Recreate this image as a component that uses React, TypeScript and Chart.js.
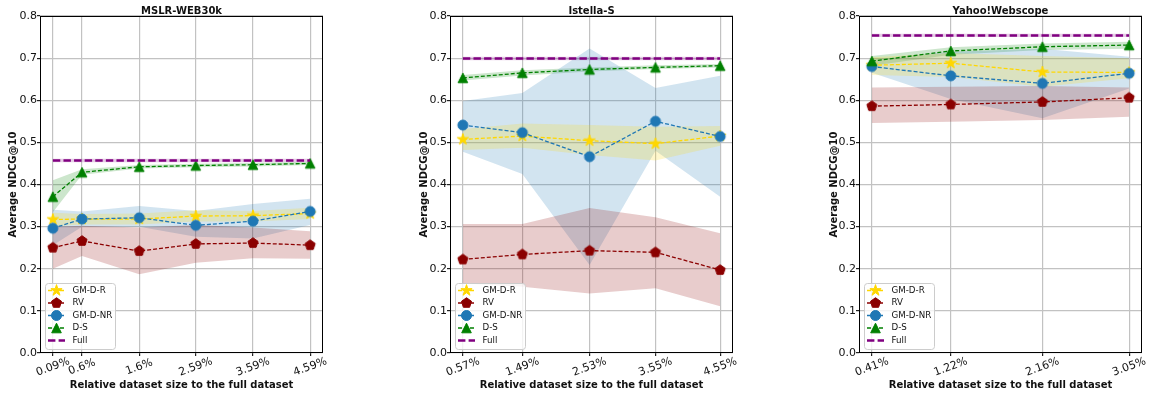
import React, { useEffect, useRef } from 'react';
import { Chart, registerables } from 'chart.js';

Chart.register(...registerables);

// ---------- shared labels ----------
const seriesNames = ['GM-D-R', 'RV', 'GM-D-NR', 'D-S', 'Full'];
const yTickValues = [0, 0.1, 0.2, 0.3, 0.4, 0.5, 0.6, 0.7, 0.8];
const xAxisTitle = 'Relative dataset size to the full dataset';
const yAxisTitle = 'Average NDCG@10';

// ---------- MSLR-WEB30k ----------
const mslrTitle = 'MSLR-WEB30k';
const mslrX = [0.09, 0.6, 1.6, 2.59, 3.59, 4.59];
const mslrXLabels = ['0.09%', '0.6%', '1.6%', '2.59%', '3.59%', '4.59%'];
const mslrGmdr = [0.317, 0.318, 0.318, 0.325, 0.326, 0.331];
const mslrGmdrLo = [0.301, 0.305, 0.305, 0.312, 0.312, 0.318];
const mslrGmdrHi = [0.333, 0.330, 0.331, 0.339, 0.337, 0.345];
const mslrRv = [0.250, 0.266, 0.242, 0.259, 0.261, 0.256];
const mslrRvLo = [0.200, 0.230, 0.187, 0.214, 0.225, 0.224];
const mslrRvHi = [0.300, 0.302, 0.298, 0.304, 0.298, 0.289];
const mslrGmdnr = [0.296, 0.318, 0.321, 0.303, 0.313, 0.336];
const mslrGmdnrLo = [0.256, 0.300, 0.300, 0.276, 0.272, 0.304];
const mslrGmdnrHi = [0.340, 0.336, 0.349, 0.337, 0.354, 0.366];
const mslrDs = [0.371, 0.429, 0.442, 0.445, 0.447, 0.450];
const mslrDsLo = [0.334, 0.423, 0.438, 0.441, 0.443, 0.446];
const mslrDsHi = [0.410, 0.436, 0.446, 0.449, 0.451, 0.454];
const mslrFull = 0.457;
const mslrFullBand = 0.004;

// ---------- Istella-S ----------
const istTitle = 'Istella-S';
const istX = [0.57, 1.49, 2.53, 3.55, 4.55];
const istXLabels = ['0.57%', '1.49%', '2.53%', '3.55%', '4.55%'];
const istGmdr = [0.507, 0.515, 0.504, 0.497, 0.515];
const istGmdrLo = [0.482, 0.487, 0.470, 0.457, 0.492];
const istGmdrHi = [0.532, 0.545, 0.541, 0.537, 0.539];
const istRv = [0.222, 0.234, 0.243, 0.239, 0.197];
const istRvLo = [0.165, 0.157, 0.141, 0.154, 0.111];
const istRvHi = [0.306, 0.306, 0.344, 0.322, 0.284];
const istGmdnr = [0.541, 0.523, 0.466, 0.550, 0.514];
const istGmdnrLo = [0.478, 0.425, 0.209, 0.480, 0.371];
const istGmdnrHi = [0.598, 0.617, 0.723, 0.629, 0.658];
const istDs = [0.653, 0.665, 0.673, 0.678, 0.682];
const istDsLo = [0.647, 0.659, 0.668, 0.674, 0.678];
const istDsHi = [0.660, 0.671, 0.678, 0.683, 0.686];
const istFull = 0.699;
const istFullBand = 0.004;

// ---------- Yahoo!Webscope ----------
const yahooTitle = 'Yahoo!Webscope';
const yahooX = [0.41, 1.22, 2.16, 3.05];
const yahooXLabels = ['0.41%', '1.22%', '2.16%', '3.05%'];
const yahooGmdr = [0.683, 0.688, 0.667, 0.666];
const yahooGmdrLo = [0.660, 0.655, 0.632, 0.652];
const yahooGmdrHi = [0.702, 0.712, 0.705, 0.700];
const yahooRv = [0.586, 0.590, 0.596, 0.606];
const yahooRvLo = [0.546, 0.549, 0.553, 0.561];
const yahooRvHi = [0.630, 0.632, 0.634, 0.630];
const yahooGmdnr = [0.680, 0.658, 0.640, 0.664];
const yahooGmdnrLo = [0.665, 0.603, 0.557, 0.628];
const yahooGmdnrHi = [0.697, 0.715, 0.722, 0.703];
const yahooDs = [0.693, 0.717, 0.727, 0.731];
const yahooDsLo = [0.682, 0.708, 0.719, 0.722];
const yahooDsHi = [0.705, 0.726, 0.735, 0.739];
const yahooFull = 0.754;
const yahooFullBand = 0.004;

// ---------- styling ----------
const FONT = "'DejaVu Sans', sans-serif";
const styles = [
  { color: '#FFD700', fill: 'rgba(255,215,0,0.2)', marker: 'star' },
  { color: '#8B0000', fill: 'rgba(139,0,0,0.2)', marker: 'pentagon' },
  { color: '#1f77b4', fill: 'rgba(31,119,180,0.2)', marker: 'circle' },
  { color: '#008000', fill: 'rgba(0,128,0,0.2)', marker: 'triangle' },
  { color: '#800080', fill: 'rgba(128,0,128,0.2)', marker: null },
];
const seriesOrder = [4, 3, 2, 1, 0];
const SERIES_DASH = [4, 2];
const FULL_DASH = [7.4, 3.2];
const GRID_COLOR = '#c2c2c2';

const layouts = [
  { plotLeft: 40, plotRight: 323, yTitleX: 15.5 },
  { plotLeft: 450, plotRight: 733, yTitleX: 426.5 },
  { plotLeft: 859, plotRight: 1142, yTitleX: 836.5 },
];
const PLOT_TOP = 16;
const PLOT_BOTTOM = 353;
const W = 1150;
const H = 394;

const panels = [
  {
    title: mslrTitle, x: mslrX, xLabels: mslrXLabels,
    mean: [mslrGmdr, mslrRv, mslrGmdnr, mslrDs],
    lo: [mslrGmdrLo, mslrRvLo, mslrGmdnrLo, mslrDsLo],
    hi: [mslrGmdrHi, mslrRvHi, mslrGmdnrHi, mslrDsHi],
    full: mslrFull, fullBand: mslrFullBand,
  },
  {
    title: istTitle, x: istX, xLabels: istXLabels,
    mean: [istGmdr, istRv, istGmdnr, istDs],
    lo: [istGmdrLo, istRvLo, istGmdnrLo, istDsLo],
    hi: [istGmdrHi, istRvHi, istGmdnrHi, istDsHi],
    full: istFull, fullBand: istFullBand,
  },
  {
    title: yahooTitle, x: yahooX, xLabels: yahooXLabels,
    mean: [yahooGmdr, yahooRv, yahooGmdnr, yahooDs],
    lo: [yahooGmdrLo, yahooRvLo, yahooGmdnrLo, yahooDsLo],
    hi: [yahooGmdrHi, yahooRvHi, yahooGmdnrHi, yahooDsHi],
    full: yahooFull, fullBand: yahooFullBand,
  },
];

function drawMarkerPath(ctx: CanvasRenderingContext2D, shape: string, cx: number, cy: number) {
  ctx.beginPath();
  if (shape === 'circle') {
    ctx.arc(cx, cy, 5, 0, Math.PI * 2);
  } else if (shape === 'triangle') {
    const r = 4.8;
    ctx.moveTo(cx, cy - r);
    ctx.lineTo(cx - r, cy + r);
    ctx.lineTo(cx + r, cy + r);
    ctx.closePath();
  } else if (shape === 'pentagon') {
    const r = 5.3;
    for (let k = 0; k < 5; k++) {
      const a = -Math.PI / 2 + (k * 2 * Math.PI) / 5;
      const px = cx + r * Math.cos(a);
      const py = cy + r * Math.sin(a);
      if (k === 0) ctx.moveTo(px, py); else ctx.lineTo(px, py);
    }
    ctx.closePath();
  } else if (shape === 'star') {
    const r = 5.9;
    for (let k = 0; k < 10; k++) {
      const a = -Math.PI / 2 + (k * Math.PI) / 5;
      const rr = k % 2 === 0 ? r : r * 0.382;
      const px = cx + rr * Math.cos(a);
      const py = cy + rr * Math.sin(a);
      if (k === 0) ctx.moveTo(px, py); else ctx.lineTo(px, py);
    }
    ctx.closePath();
  }
}

function drawMarker(ctx: CanvasRenderingContext2D, shape: string, color: string, cx: number, cy: number) {
  ctx.save();
  drawMarkerPath(ctx, shape, cx, cy);
  ctx.fillStyle = color;
  ctx.strokeStyle = color;
  ctx.lineWidth = 1;
  ctx.setLineDash([]);
  ctx.fill();
  ctx.stroke();
  ctx.restore();
}

function makeMarkerCanvas(shape: string, color: string) {
  const c = document.createElement('canvas');
  c.width = 18;
  c.height = 18;
  const ctx = c.getContext('2d')!;
  drawMarker(ctx, shape, color, 9, 9);
  return c;
}

const decorPlugin = {
  id: 'decor',
  afterDatasetsDraw(chart: any, _args: any, opts: any) {
    const p = opts.panel;
    const lay = opts.layout;
    const ctx: CanvasRenderingContext2D = chart.ctx;
    const { left, right, top, bottom } = chart.chartArea;
    const xs = chart.scales.x;
    ctx.save();
    // spines
    ctx.strokeStyle = '#000';
    ctx.lineWidth = 1;
    ctx.setLineDash([]);
    ctx.strokeRect(left + 0.5, top + 0.5, right - left - 1, bottom - top - 1);

    // titles
    ctx.fillStyle = '#111';
    ctx.font = `bold 10px ${FONT}`;
    ctx.textAlign = 'center';
    ctx.textBaseline = 'alphabetic';
    ctx.fillText(p.title, (left + right) / 2, 14);
    ctx.fillText(xAxisTitle, (left + right) / 2, 387.5);
    ctx.save();
    ctx.translate(lay.yTitleX, (top + bottom) / 2);
    ctx.rotate(-Math.PI / 2);
    ctx.fillText(yAxisTitle, 0, 0);
    ctx.restore();

    // x tick labels (rotated, centered)
    ctx.font = `11px ${FONT}`;
    ctx.textBaseline = 'middle';
    p.x.forEach((v: number, i: number) => {
      const px = xs.getPixelForValue(v);
      ctx.save();
      ctx.translate(px, 367);
      ctx.rotate((-20 * Math.PI) / 180);
      ctx.fillText(p.xLabels[i], 0, 0);
      ctx.restore();
    });

    // legend
    const bx = left + 5;
    const by = bottom - 70;
    const bw = 70;
    const bh = 66;
    ctx.beginPath();
    (ctx as any).roundRect(bx + 0.5, by + 0.5, bw, bh, 3);
    ctx.fillStyle = 'rgba(255,255,255,0.8)';
    ctx.fill();
    ctx.strokeStyle = '#cccccc';
    ctx.lineWidth = 1;
    ctx.stroke();
    ctx.font = `8.7px ${FONT}`;
    ctx.textAlign = 'left';
    ctx.textBaseline = 'middle';
    seriesNames.forEach((name, i) => {
      const ry = by + 7.5 + i * 12.5;
      const st = styles[i];
      ctx.save();
      ctx.strokeStyle = st.color;
      if (st.marker) {
        ctx.lineWidth = 1.3;
        ctx.setLineDash(SERIES_DASH);
      } else {
        ctx.lineWidth = 2.5;
        ctx.setLineDash(FULL_DASH);
      }
      ctx.beginPath();
      ctx.moveTo(bx + 3, ry);
      ctx.lineTo(bx + 20, ry);
      ctx.stroke();
      ctx.restore();
      if (st.marker) drawMarker(ctx, st.marker, st.color, bx + 11.5, ry);
      ctx.fillStyle = '#111';
      ctx.fillText(name, bx + 27.5, ry);
    });
    ctx.restore();
  },
};

function buildConfig(p: any, lay: any, markers: HTMLCanvasElement[]) {
  const datasets: any[] = [];
  const pts = (ys: number[]) => p.x.map((x: number, i: number) => ({ x, y: ys[i] }));
  const fullPts = (v: number) => p.x.map((x: number) => ({ x, y: v }));

  // bands
  for (let s = 0; s < 4; s++) {
    datasets.push({
      data: pts(p.lo[s]), borderWidth: 0, borderColor: 'rgba(0,0,0,0)', pointRadius: 0,
      fill: false, order: 20, tension: 0,
    });
    datasets.push({
      data: pts(p.hi[s]), borderWidth: 0, borderColor: 'rgba(0,0,0,0)', pointRadius: 0,
      fill: '-1', backgroundColor: styles[s].fill, order: 20, tension: 0,
    });
  }
  datasets.push({
    data: fullPts(p.full - p.fullBand), borderWidth: 0, borderColor: 'rgba(0,0,0,0)', pointRadius: 0,
    fill: false, order: 20, tension: 0,
  });
  datasets.push({
    data: fullPts(p.full + p.fullBand), borderWidth: 0, borderColor: 'rgba(0,0,0,0)', pointRadius: 0,
    fill: '-1', backgroundColor: styles[4].fill, order: 20, tension: 0,
  });

  // mean lines
  for (let s = 0; s < 4; s++) {
    datasets.push({
      label: seriesNames[s],
      data: pts(p.mean[s]),
      borderColor: styles[s].color,
      borderWidth: 1.3,
      borderDash: SERIES_DASH,
      pointStyle: markers[s],
      pointRadius: 5,
      fill: false,
      tension: 0,
      order: seriesOrder[s],
    });
  }
  datasets.push({
    label: seriesNames[4],
    data: fullPts(p.full),
    borderColor: styles[4].color,
    borderWidth: 2.5,
    borderDash: FULL_DASH,
    pointRadius: 0,
    fill: false,
    tension: 0,
    order: 0,
  });

  const x0 = p.x[0];
  const x1 = p.x[p.x.length - 1];
  const margin = (x1 - x0) * 0.05;

  return {
    type: 'line',
    data: { datasets },
    plugins: [decorPlugin],
    options: {
      animation: false,
      responsive: false,
      devicePixelRatio: 1,
      events: [],
      layout: {
        autoPadding: false,
        padding: { left: lay.plotLeft - 40, right: W - lay.plotRight, top: PLOT_TOP, bottom: 0 },
      },
      plugins: {
        legend: { display: false },
        tooltip: { enabled: false },
        title: { display: false },
        filler: { drawTime: 'beforeDatasetsDraw', propagate: false },
        decor: { panel: p, layout: lay },
      },
      scales: {
        x: {
          type: 'linear',
          bounds: 'data',
          min: x0 - margin,
          max: x1 + margin,
          afterBuildTicks: (scale: any) => {
            scale.ticks = p.x.map((v: number) => ({ value: v }));
          },
          afterFit: (scale: any) => {
            scale.height = H - PLOT_BOTTOM;
          },
          ticks: { display: false },
          grid: {
            color: GRID_COLOR,
            lineWidth: 1.2,
            drawTicks: true,
            tickLength: 3,
            tickColor: '#222',
          },
          border: { display: false },
        },
        y: {
          type: 'linear',
          bounds: 'data',
          min: 0,
          max: 0.8,
          afterBuildTicks: (scale: any) => {
            scale.ticks = yTickValues.map((v) => ({ value: v }));
          },
          afterFit: (scale: any) => {
            scale.width = 40;
          },
          ticks: {
            color: '#111',
            padding: 0,
            font: { family: FONT, size: 11 },
            callback: (v: any) => Number(v).toFixed(1),
          },
          grid: {
            color: GRID_COLOR,
            lineWidth: 1.2,
            drawTicks: true,
            tickLength: 3,
            tickColor: '#222',
          },
          border: { display: false },
        },
      },
    },
  };
}

function Panel({ index }: { index: number }) {
  const ref = useRef<HTMLCanvasElement>(null);
  useEffect(() => {
    const markers = styles.slice(0, 4).map((s) => makeMarkerCanvas(s.marker as string, s.color));
    const chart = new Chart(ref.current as HTMLCanvasElement, buildConfig(panels[index], layouts[index], markers) as any);
    return () => chart.destroy();
  }, [index]);
  return (
    <canvas
      ref={ref}
      width={W}
      height={H}
      style={{ position: 'absolute', left: 0, top: 0, width: W, height: H }}
    />
  );
}

export default function App() {
  Chart.defaults.font.family = FONT;
  return (
    <div style={{ position: 'fixed', left: 0, top: 0, width: W, height: H, background: '#fff' }}>
      <Panel index={0} />
      <Panel index={1} />
      <Panel index={2} />
    </div>
  );
}
